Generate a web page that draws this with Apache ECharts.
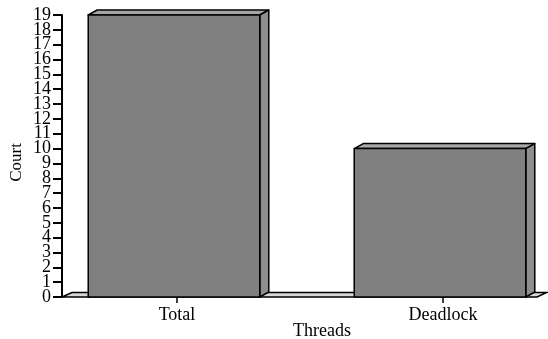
<!DOCTYPE html>
<html>
<head>
<meta charset="utf-8">
<script src="https://cdn.jsdelivr.net/npm/echarts@6/dist/echarts.min.js"></script>
<style>
  html, body { margin: 0; background: #fff; }
  #main { width: 548px; height: 339px; }
</style>
</head>
<body>
<div id="main"></div>
<script>
const categories = ["Total", "Deadlock"];
const counts = [19, 10];
const yMax = 19;

const FONT = '"Liberation Serif", "Times New Roman", serif';
const DX = 9, DY = -5; // fake 3d depth
const AXIS_SHIFT = 115; // y axis sits left of first category

const chart = echarts.init(document.getElementById("main"));

function renderBar(params, api) {
  const idx = api.value(0);
  const [cx, yTop] = api.coord([idx, api.value(1)]);
  const y0 = api.coord([idx, 0])[1];
  const w = api.size([1, 0])[0] * 0.645;
  const x0 = cx - w / 2 - 3;
  const x1 = x0 + w;
  const line = { stroke: "#000", lineWidth: 1.5, lineJoin: "round" };
  return {
    type: "group",
    children: [
      { type: "polygon", shape: { points: [[x0, yTop], [x0 + DX, yTop + DY], [x1 + DX, yTop + DY], [x1, yTop]] },
        style: Object.assign({ fill: "#a6a6a6" }, line) },
      { type: "polygon", shape: { points: [[x1, yTop], [x1 + DX, yTop + DY], [x1 + DX, y0 + DY], [x1, y0]] },
        style: Object.assign({ fill: "#8e8e8e" }, line) },
      { type: "rect", shape: { x: x0, y: yTop, width: w, height: y0 - yTop },
        style: Object.assign({ fill: "#808080" }, line) }
    ]
  };
}

function renderFloor(params, api) {
  const cs = params.coordSys;
  const y0 = cs.y + cs.height;
  const left = cs.x - AXIS_SHIFT;
  const right = cs.x + cs.width + 94;
  return {
    type: "polygon",
    shape: { points: [[left, y0], [left + DX + 1, y0 + DY + 0.5], [right + DX + 1, y0 + DY + 0.5], [right, y0]] },
    style: { fill: "#d8d8d8", stroke: "#000", lineWidth: 1.5 }
  };
}

const gridBox = { left: 177, right: 105, top: 15, bottom: 42, containLabel: false, outerBoundsMode: "none" };
const tickLabel = { color: "#000", fontFamily: FONT, fontSize: 18, margin: 11 };
const tickStyle = { show: true, length: 9, lineStyle: { color: "#000", width: 2 } };

const option = {
  animation: false,
  // second grid only carries the 0 and 19 labels, which the main axis drops as overlapping
  grid: [gridBox, Object.assign({}, gridBox)],
  xAxis: [
    {
      type: "category",
      data: categories,
      boundaryGap: false,
      name: "Threads",
      nameLocation: "middle",
      nameGap: 25,
      nameMoveOverlap: false,
      nameTextStyle: { color: "#000", fontFamily: FONT, fontSize: 18, padding: [0, 0, 0, 24] },
      axisLine: { show: false },
      axisTick: { show: true, alignWithLabel: true, length: 6, lineStyle: { color: "#000", width: 1.5 } },
      axisLabel: { color: "#000", fontFamily: FONT, fontSize: 18, margin: 9 },
      splitLine: { show: false }
    },
    { type: "category", gridIndex: 1, data: categories, boundaryGap: false, show: false }
  ],
  yAxis: [
    {
      type: "value",
      min: 0,
      max: yMax,
      interval: 1,
      offset: AXIS_SHIFT,
      name: "Court",
      nameLocation: "middle",
      nameGap: 37,
      nameMoveOverlap: false,
      nameTextStyle: { color: "#000", fontFamily: FONT, fontSize: 17, padding: [0, 13, 0, 0] },
      axisLine: { show: true, lineStyle: { color: "#000", width: 2 } },
      axisTick: tickStyle,
      axisLabel: Object.assign({ showMinLabel: false, showMaxLabel: false }, tickLabel),
      splitLine: { show: false }
    },
    {
      type: "value",
      gridIndex: 1,
      min: 0,
      max: yMax,
      interval: yMax,
      offset: AXIS_SHIFT,
      axisLine: { show: false },
      axisTick: tickStyle,
      axisLabel: tickLabel,
      splitLine: { show: false }
    }
  ],
  series: [
    {
      type: "custom",
      name: "floor",
      renderItem: renderFloor,
      data: [[0, 0]],
      z: 1,
      silent: true
    },
    {
      type: "custom",
      name: "Count",
      renderItem: renderBar,
      encode: { x: 0, y: 1 },
      data: counts.map((v, i) => [i, v]),
      z: 2
    }
  ]
};

chart.setOption(option);
</script>
</body>
</html>
